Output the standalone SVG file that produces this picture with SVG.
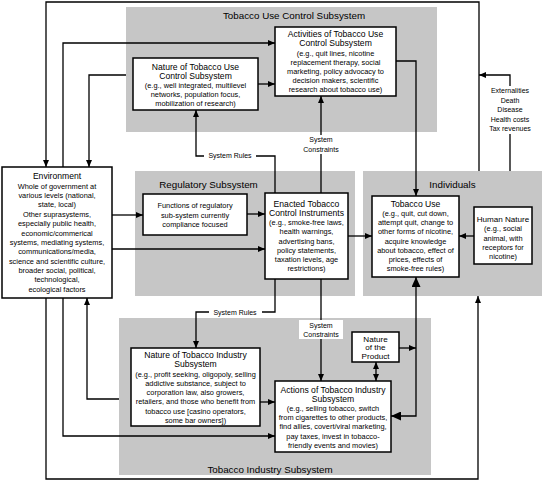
<svg xmlns="http://www.w3.org/2000/svg" width="542" height="481" viewBox="0 0 542 481">
<defs>
<style>
.gray{fill:#c6c6c6;stroke:none}
.box{fill:#fff;stroke:#000;stroke-width:1.5}
.c{fill:none;stroke:#000;stroke-width:1.3}
text{font-family:"Liberation Sans",Arial,sans-serif;fill:#000;text-anchor:middle}
.t{font-size:8.6px}
.t2{font-size:8.1px}
.b{font-size:7.4px}
.g{font-size:9.8px}
.l{font-size:7px}
</style>
<marker id="ah" viewBox="0 0 7 6" refX="7" refY="3" markerWidth="7" markerHeight="6" markerUnits="userSpaceOnUse" orient="auto-start-reverse"><path d="M0,0 L7,3 L0,6 z" fill="#000"/></marker>
<marker id="big" viewBox="0 0 10 9" refX="10" refY="4.5" markerWidth="10" markerHeight="9" markerUnits="userSpaceOnUse" orient="auto-start-reverse"><path d="M0,0 L10,4.5 L0,9 z" fill="#000"/></marker>
</defs>
<rect width="542" height="481" fill="#fff"/>

<g id="subsystems">
<rect class="gray" x="126" y="7" width="311" height="125"/>
<text class="g" x="294" y="19">Tobacco Use Control Subsystem</text>
<rect class="gray" x="135" y="171" width="220" height="125"/>
<text class="g" x="208.5" y="188">Regulatory Subsystem</text>
<rect class="gray" x="363" y="171" width="179" height="125"/>
<text class="g" x="452.5" y="188">Individuals</text>
<rect class="gray" x="119" y="318" width="312" height="157"/>
<text class="g" x="270" y="472.5">Tobacco Industry Subsystem</text>
</g>

<g id="connectors">
<path class="c" d="M479,171 V2 H46 V167" marker-end="url(#ah)"/>
<path class="c" d="M510,171 V134 M510,86 V75 H479" marker-end="url(#ah)"/>
<path class="c" d="M63,167 V43 H275" marker-end="url(#ah)"/>
<path class="c" d="M126,75 H89 V167" marker-end="url(#ah)"/>
<path class="c" d="M258,84 H275" marker-end="url(#ah)"/>
<path class="c" d="M396,61 H416 V196" marker-end="url(#ah)"/>
<path class="c" d="M321,193 V154 M321,135 V96" marker-end="url(#ah)"/>
<path class="c" d="M275,193 V156 H256 M204,156 H196 V110" marker-end="url(#ah)"/>
<path class="c" d="M112,215 H143" marker-end="url(#ah)"/>
<path class="c" d="M112,249 H265" marker-end="url(#ah)"/>
<path class="c" d="M247,214 H265" marker-end="url(#ah)"/>
<path class="c" d="M348,236 H372" marker-end="url(#ah)"/>
<path class="c" d="M474,236 H459" marker-end="url(#ah)"/>
<path class="c" d="M275,279 V312 H262 M209,312 H196 V348" marker-end="url(#ah)"/>
<path class="c" d="M321,279 V381" marker-end="url(#ah)"/>
<path class="c" d="M260,402 H275" marker-end="url(#ah)"/>
<path class="c" d="M119,399 H87 V298" marker-end="url(#ah)"/>
<path class="c" d="M63,298 V436 H275" marker-end="url(#ah)"/>
<path class="c" d="M46,298 V479 H478 V296" marker-end="url(#ah)"/>
<path class="c" d="M376,362 V381" marker-start="url(#ah)" marker-end="url(#ah)"/>
<path class="c" d="M399,348 H416" marker-end="url(#ah)"/>
<path class="c" d="M391,416 H416 V277" marker-start="url(#big)" marker-end="url(#big)"/>
<text class="l" x="230" y="158">System Rules</text>
<text class="l" x="321" y="142">System</text>
<text class="l" x="321" y="151.5">Constraints</text>
<text class="l" x="235" y="314.5">System Rules</text>
<rect x="299" y="320" width="44" height="19" fill="#fff"/>
<text class="l" x="321" y="327.5">System</text>
<text class="l" x="321" y="337">Constraints</text>
<text class="l" x="510" y="93">Externalities</text>
<text class="l" x="510" y="102.5">Death</text>
<text class="l" x="510" y="112">Disease</text>
<text class="l" x="510" y="121.5">Health costs</text>
<text class="l" x="510" y="131">Tax revenues</text>
</g>

<g id="environment">
<rect class="box" x="2" y="167" width="110" height="131"/>
<text class="t" x="57" y="179">Environment</text>
<text class="b" x="57" y="188.7">Whole of government at</text>
<text class="b" x="57" y="198">various levels (national,</text>
<text class="b" x="57" y="207.4">state, local)</text>
<text class="b" x="57" y="216.8">Other suprasystems,</text>
<text class="b" x="57" y="226.1">especially public health,</text>
<text class="b" x="57" y="235.5">economic/commerical</text>
<text class="b" x="57" y="244.9">systems, mediating systems,</text>
<text class="b" x="57" y="254.2">communications/media,</text>
<text class="b" x="57" y="263.6">science  and scientific culture,</text>
<text class="b" x="57" y="272.9">broader social, political,</text>
<text class="b" x="57" y="282.3">technological,</text>
<text class="b" x="57" y="291.7">ecological factors</text>
</g>

<g id="nature-tuc">
<rect class="box" x="133" y="58" width="125" height="52"/>
<text class="t" x="195.5" y="70">Nature of Tobacco Use</text>
<text class="t" x="195.5" y="78.5">Control Subsystem</text>
<text class="b" x="195.5" y="88">(e.g., well integrated, multilevel</text>
<text class="b" x="195.5" y="97">networks, population focus,</text>
<text class="b" x="195.5" y="106">mobilization of research)</text>
</g>

<g id="activities-tuc">
<rect class="box" x="275" y="27" width="121" height="69"/>
<text class="t" x="335.5" y="36.5">Activities of Tobacco Use</text>
<text class="t" x="335.5" y="46">Control Subsystem</text>
<text class="b" x="335.5" y="55.5">(e.g., quit lines, nicotine</text>
<text class="b" x="335.5" y="64.5">replacement therapy, social</text>
<text class="b" x="335.5" y="73.7">marketing, policy advocacy to</text>
<text class="b" x="335.5" y="82.7">decision makers, scientific</text>
<text class="b" x="335.5" y="92">research about tobacco use)</text>
</g>

<g id="functions-regulatory">
<rect class="box" x="143" y="194" width="104" height="41"/>
<text class="b" x="195" y="208.4">Functions of regulatory</text>
<text class="b" x="195" y="217.7">sub-system currently</text>
<text class="b" x="195" y="227">compliance focused</text>
</g>

<g id="enacted-instruments">
<rect class="box" x="265" y="193" width="83" height="86"/>
<text class="t" x="306.5" y="206.5">Enacted Tobacco</text>
<text class="t" x="306.5" y="216">Control Instruments</text>
<text class="b" x="306.5" y="225.4">(e.g., smoke-free laws,</text>
<text class="b" x="306.5" y="234.4">health warnings,</text>
<text class="b" x="306.5" y="243.7">advertising bans,</text>
<text class="b" x="306.5" y="252.7">policy statements,</text>
<text class="b" x="306.5" y="261.7">taxation levels, age</text>
<text class="b" x="306.5" y="271">restrictions)</text>
</g>

<g id="tobacco-use">
<rect class="box" x="372" y="196" width="87" height="81"/>
<text class="t" x="415.5" y="207">Tobacco Use</text>
<text class="b" x="415.5" y="216">(e.g., quit, cut down,</text>
<text class="b" x="415.5" y="225.4">attempt quit, change to</text>
<text class="b" x="415.5" y="234.4">other forms of nicotine,</text>
<text class="b" x="415.5" y="243.7">acquire knowledge</text>
<text class="b" x="415.5" y="252.7">about tobacco, effect of</text>
<text class="b" x="415.5" y="262">prices, effects of</text>
<text class="b" x="415.5" y="271">smoke-free rules)</text>
</g>

<g id="human-nature">
<rect class="box" x="474" y="207" width="58" height="57"/>
<text class="t2" x="503" y="222">Human Nature</text>
<text class="b" x="503" y="231">(e.g., social</text>
<text class="b" x="503" y="240.5">animal, with</text>
<text class="b" x="503" y="249.7">receptors for</text>
<text class="b" x="503" y="258.7">nicotine)</text>
</g>

<g id="nature-product">
<rect class="box" x="352" y="332" width="47" height="30"/>
<text class="t2" x="375.5" y="341.5">Nature</text>
<text class="t2" x="375.5" y="350">of the</text>
<text class="t2" x="375.5" y="358.5">Product</text>
</g>

<g id="nature-ti">
<rect class="box" x="131" y="348" width="129" height="78"/>
<text class="t" x="195.5" y="358.3">Nature of Tobacco Industry</text>
<text class="t" x="195.5" y="367.3">Subsystem</text>
<text class="b" x="195.5" y="376.7">(e.g., profit seeking, oligopoly, selling</text>
<text class="b" x="195.5" y="386">addictive substance, subject to</text>
<text class="b" x="195.5" y="395.4">corporation law, also growers,</text>
<text class="b" x="195.5" y="404.4">retailers, and those who benefit from</text>
<text class="b" x="195.5" y="413.7">tobacco use [casino operators,</text>
<text class="b" x="195.5" y="422.7">some bar owners])</text>
</g>

<g id="actions-ti">
<rect class="box" x="275" y="381" width="116" height="71"/>
<text class="t" x="333" y="393.3">Actions of Tobacco Industry</text>
<text class="t" x="333" y="402.3">Subsystem</text>
<text class="b" x="333" y="411">(e.g., selling tobacco, switch</text>
<text class="b" x="333" y="420">from cigarettes to other products,</text>
<text class="b" x="333" y="429.4">find allies, covert/viral marketing,</text>
<text class="b" x="333" y="438.7">pay taxes, invest in tobacco-</text>
<text class="b" x="333" y="448.4">friendly events and movies)</text>
</g>
</svg>
